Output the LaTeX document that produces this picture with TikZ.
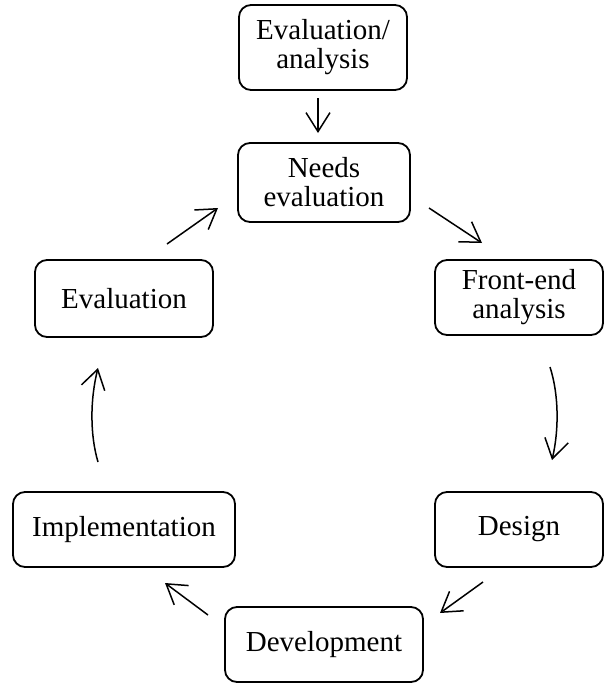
\documentclass[tikz,border=0pt]{standalone}
\usepackage{fontspec}
\setmainfont{Liberation Serif}
\usetikzlibrary{arrows.meta}
\begin{document}
\begin{tikzpicture}[x=1pt,y=-1pt,
  stage/.style={draw, line width=1.8pt, rounded corners=12pt, align=center,
    inner sep=0pt, font=\fontsize{29}{29}\selectfont},
  flow/.style={line width=1.5pt, -{Straight Barb[length=19pt,width=24pt,line width=1.5pt]}}]
\useasboundingbox (0,0) rectangle (605,683);
\node[stage, minimum width=168pt, minimum height=85pt] (ea) at (323,47.5) {Evaluation/\\analysis};
\node[stage, minimum width=172pt, minimum height=79pt] (ne) at (324,182.5) {Needs\\evaluation};
\node[stage, minimum width=168pt, minimum height=75pt] (fe) at (519,297.5) {Front-end\\analysis};
\node[stage, minimum width=178pt, minimum height=77pt] (ev) at (124,298.5) {Evaluation};
\node[stage, minimum width=168pt, minimum height=75pt] (de) at (519,529.5) {Design};
\node[stage, minimum width=222pt, minimum height=75pt] (im) at (124,529.5) {Implementation};
\node[stage, minimum width=198pt, minimum height=75pt] (dv) at (324,644.5) {Development};
\coordinate (a1s) at (318,98);  \coordinate (a1e) at (318,133);
\coordinate (a2s) at (429,208); \coordinate (a2e) at (482,243);
\coordinate (a3s) at (550,367); \coordinate (a3e) at (552,460);
\coordinate (a4s) at (483,582); \coordinate (a4e) at (440,613);
\coordinate (a5s) at (208,615); \coordinate (a5e) at (165,583);
\coordinate (a6s) at (98,462);  \coordinate (a6e) at (98,368);
\coordinate (a7s) at (167,244); \coordinate (a7e) at (218,208);
\draw[flow] (a1s) -- (a1e);
\draw[flow] (a2s) -- (a2e);
\draw[flow] (a3s) .. controls (559,395) and (559,430) .. (a3e);
\draw[flow] (a4s) -- (a4e);
\draw[flow] (a5s) -- (a5e);
\draw[flow] (a6s) .. controls (90,435) and (90,400) .. (a6e);
\draw[flow] (a7s) -- (a7e);
\end{tikzpicture}
\end{document}
